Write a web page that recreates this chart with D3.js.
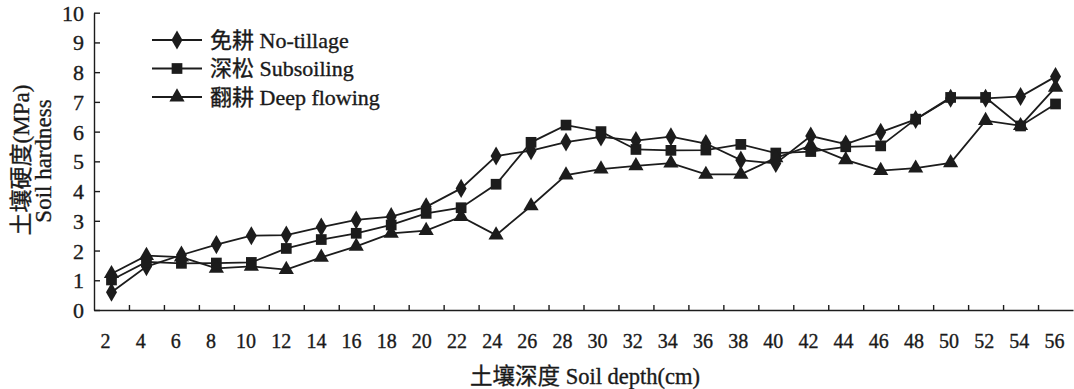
<!DOCTYPE html>
<html>
<head>
<meta charset="utf-8">
<script src="https://cdn.jsdelivr.net/npm/d3@7"></script>
<style>
  html, body { margin: 0; padding: 0; background: #fff; }
  svg { display: block; }
  text { font-family: "Liberation Serif", "Times New Roman", "Noto Sans CJK SC", serif; fill: #1a1a1a; stroke: #1a1a1a; stroke-width: 0.35px; }
</style>
</head>
<body>
<svg id="chart" width="1074" height="389"></svg>
<script>
// Soil depth (cm) of each sampling layer
const depths = [2, 4, 6, 8, 10, 12, 14, 16, 18, 20, 22, 24, 26, 28, 30, 32, 34, 36, 38, 40, 42, 44, 46, 48, 50, 52, 54, 56];

// Soil hardness (MPa) under each tillage practice
const noTillage = [0.60, 1.46, 1.85, 2.20, 2.50, 2.52, 2.79, 3.03, 3.14, 3.47, 4.09, 5.18, 5.36, 5.65, 5.82, 5.70, 5.83, 5.60, 5.04, 4.93, 5.85, 5.58, 5.98, 6.41, 7.12, 7.12, 7.18, 7.85];
const subsoiling = [1.01, 1.62, 1.57, 1.58, 1.60, 2.07, 2.37, 2.58, 2.86, 3.25, 3.44, 4.23, 5.64, 6.22, 6.00, 5.40, 5.37, 5.38, 5.57, 5.28, 5.33, 5.49, 5.52, 6.42, 7.15, 7.15, 6.19, 6.93];
const deepPlowing = [1.22, 1.83, 1.78, 1.40, 1.47, 1.36, 1.77, 2.14, 2.58, 2.67, 3.14, 2.52, 3.50, 4.54, 4.74, 4.85, 4.94, 4.56, 4.56, 5.12, 5.53, 5.05, 4.69, 4.77, 4.95, 6.37, 6.20, 7.49];

const seriesNames = ["免耕 No-tillage", "深松 Subsoiling", "翻耕 Deep flowing"];
const markerTypes = [d3.symbolDiamond, d3.symbolSquare, d3.symbolTriangle];
const markerSizes = [105, 115, 100];
const yTicks = [0, 1, 2, 3, 4, 5, 6, 7, 8, 9, 10];

const series = [noTillage, subsoiling, deepPlowing].map((values, i) => ({
  name: seriesNames[i],
  symbol: markerTypes[i],
  size: markerSizes[i],
  points: depths.map((d, j) => ({ depth: d, value: values[j] }))
}));

const svg = d3.select("#chart");
const ink = "#1c1c1c";

const plot = { left: 94, right: 1073, top: 12.7, bottom: 310 };

// Categories sit in equal bands; ticks mark the band edges
const x = d3.scaleBand().domain(depths).range([plot.left, plot.right]);
const xEdges = d3.scaleLinear().domain([0, depths.length]).range([plot.left, plot.right]);
const xLabels = d3.scalePoint().domain(depths).range([105, 1054]);
const y = d3.scaleLinear().domain([0, 10]).range([plot.bottom, plot.top]);

// Y axis with inward ticks
const yAxis = svg.append("g")
  .attr("transform", `translate(${plot.left},0)`)
  .call(d3.axisLeft(y).tickValues(yTicks).tickSizeInner(-6).tickSizeOuter(0).tickPadding(10).tickFormat(d3.format("d")));
yAxis.selectAll("text").attr("font-size", 22).attr("dy", "0.34em");

// X axis line with inward ticks at band edges
svg.append("g")
  .attr("transform", `translate(0,${plot.bottom})`)
  .call(d3.axisBottom(xEdges).tickValues(d3.range(1, depths.length)).tickSizeInner(-5).tickSizeOuter(0).tickFormat(""));

// Depth labels
const xLab = svg.append("g")
  .attr("transform", `translate(0,${plot.bottom})`)
  .call(d3.axisBottom(xLabels).tickSize(0).tickPadding(24));
xLab.select(".domain").remove();
xLab.selectAll("text").attr("font-size", 20);

svg.selectAll(".domain, .tick line").attr("stroke", ink).attr("stroke-width", 1.4);

// Series lines and markers
const line = d3.line().x(d => x(d.depth) + x.bandwidth() / 2).y(d => y(d.value));

series.forEach(s => {
  svg.append("path")
    .datum(s.points)
    .attr("fill", "none")
    .attr("stroke", ink)
    .attr("stroke-width", 1.8)
    .attr("d", line);
});

series.forEach(s => {
  svg.append("g").selectAll("path")
    .data(s.points)
    .join("path")
    .attr("transform", d => `translate(${x(d.depth) + x.bandwidth() / 2},${y(d.value)})`)
    .attr("d", d3.symbol().type(s.symbol).size(s.size))
    .attr("fill", ink);
});

// Legend
const legend = svg.append("g").attr("transform", "translate(152,40)");
series.forEach((s, i) => {
  const row = legend.append("g").attr("transform", `translate(0,${i * 28.5})`);
  row.append("line").attr("x1", 0).attr("x2", 50).attr("y1", 0).attr("y2", 0)
    .attr("stroke", ink).attr("stroke-width", 1.8);
  row.append("path").attr("transform", "translate(25,0)")
    .attr("d", d3.symbol().type(s.symbol).size(s.size)).attr("fill", ink);
  row.append("text").attr("x", 58).attr("dy", "0.35em").attr("font-size", 22).text(s.name);
});

// Axis titles
svg.append("text")
  .attr("transform", "translate(21,160) rotate(-90)")
  .attr("text-anchor", "middle").attr("dy", "0.35em").attr("font-size", 23)
  .text("土壤硬度(MPa)");
svg.append("text")
  .attr("transform", "translate(43,161) rotate(-90)")
  .attr("text-anchor", "middle").attr("dy", "0.35em").attr("font-size", 23)
  .text("Soil hardness");
svg.append("text")
  .attr("x", 585).attr("y", 376)
  .attr("text-anchor", "middle").attr("dy", "0.35em").attr("font-size", 22.5)
  .text("土壤深度 Soil depth(cm)");
</script>
</body>
</html>
